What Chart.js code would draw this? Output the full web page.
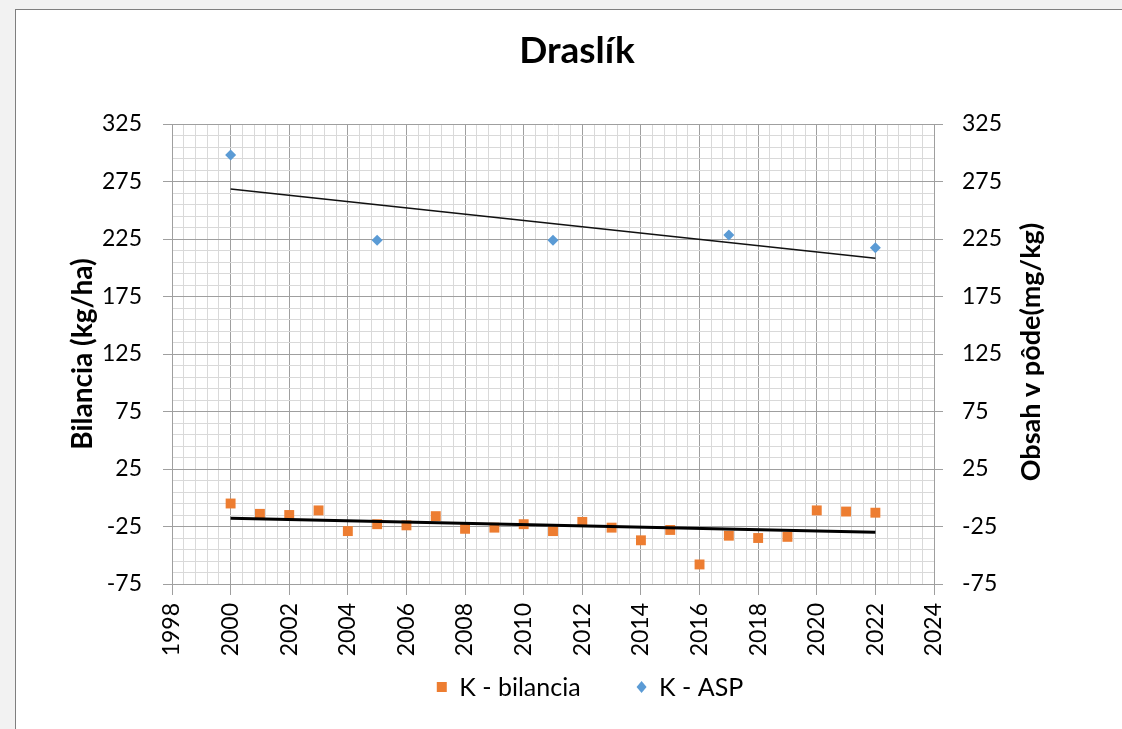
<!DOCTYPE html>
<html lang="sk">
<head>
<meta charset="utf-8">
<title>Draslík</title>
<script src="https://cdn.jsdelivr.net/npm/chart.js@4.4.1/dist/chart.umd.min.js"></script>
<style>
  html, body { margin: 0; padding: 0; background: #f2f2f2; overflow: hidden; }
  #frame {
    position: absolute; left: 15px; top: 9px; width: 1107px; height: 720px;
    background: #fff; border-left: 1px solid #7f7f7f; border-top: 1px solid #7f7f7f;
  }
  #wrap { position: absolute; left: 0; top: 0; width: 1106px; height: 719px; }
</style>
</head>
<body>
<div id="frame"><div id="wrap"><canvas id="chart"></canvas></div></div>
<script>
// K - bilancia (kg/ha), one value per year
const years = [2000, 2001, 2002, 2003, 2004, 2005, 2006, 2007, 2008, 2009, 2010, 2011,
               2012, 2013, 2014, 2015, 2016, 2017, 2018, 2019, 2020, 2021, 2022];
const bilancia = [-5, -14, -15, -11, -29, -23, -24, -16, -27, -26, -23, -29,
                  -21, -26, -37, -28, -58, -33, -35, -34, -11, -12, -13];

// K - ASP (mg/kg), soil sampling years only
const aspYears = [2000, 2005, 2011, 2017, 2022];
const aspValues = [298, 224, 224, 228.5, 217.5];

// axis ranges / labels
const xRange = [1998, 2024];
const yRange = [-75, 325];
const seriesNames = ['K - bilancia', 'K - ASP'];
const axisTitles = ['Bilancia (kg/ha)', 'Obsah v pôde(mg/kg)'];
const chartTitle = 'Draslík';

const ORANGE = '#ed7d31';
const BLUE = '#5b9bd5';
const GRID_MAJOR = '#9f9f9f';
const GRID_MINOR = '#d9d9d9';
const FONT = 'Lato';

const toPoints = (xs, ys) => xs.map((x, i) => ({ x, y: ys[i] }));

// linear trendline (least squares), from first to last x like Excel does
function trend(xs, ys) {
  const n = xs.length;
  const mx = xs.reduce((a, b) => a + b, 0) / n;
  const my = ys.reduce((a, b) => a + b, 0) / n;
  let sxy = 0, sxx = 0;
  xs.forEach((x, i) => { sxy += (x - mx) * (ys[i] - my); sxx += (x - mx) * (x - mx); });
  const k = sxy / sxx;
  const x0 = xs[0], x1 = xs[n - 1];
  return [{ x: x0, y: my + k * (x0 - mx) }, { x: x1, y: my + k * (x1 - mx) }];
}

const isMajorY = v => Math.abs(((v - yRange[0]) % 50)) < 1e-6;
const isMajorX = v => {
  const r = Math.round(v);
  return Math.abs(v - r) < 1e-6 && r % 2 === 0;
};

// right axis title reads bottom-to-top in the original, Chart.js would flip it
const rightTitle = {
  id: 'rightTitle',
  afterDraw(chart) {
    const { ctx, chartArea } = chart;
    ctx.save();
    ctx.font = `bold 27px ${FONT}`;
    ctx.fillStyle = '#000';
    ctx.textAlign = 'center';
    ctx.textBaseline = 'middle';
    ctx.translate(chartArea.right + 97, (chartArea.top + chartArea.bottom) / 2 - 2);
    ctx.rotate(-Math.PI / 2);
    ctx.fillText(axisTitles[1], 0, 0);
    ctx.restore();
  }
};

// Legend drawn by hand: the built-in one uses the same padding for the gap
// between items and for its height, and the original has a wide gap.
// The original chart is also wider than the visible crop, so the row sits
// right of the canvas centre (same for the title).
const legendRow = {
  id: 'legendRow',
  afterLayout(chart) {
    chart.titleBlock.left += 8;
    chart.titleBlock.right += 8;
  },
  afterDraw(chart) {
    const { ctx } = chart;
    const items = [
      { text: seriesNames[0], color: ORANGE, style: 'rect' },
      { text: seriesNames[1], color: BLUE, style: 'diamond' }
    ];
    const fontSize = 25, box = 10, gap = 56;
    ctx.save();
    ctx.font = `${fontSize}px ${FONT}`;
    ctx.textBaseline = 'middle';
    ctx.textAlign = 'left';
    const widths = items.map(it => box + fontSize / 2 + ctx.measureText(it.text).width);
    const total = widths.reduce((a, b) => a + b, 0) + gap * (items.length - 1);
    let x = chart.width / 2 + 21 - total / 2;
    const y = chart.height - 42;
    items.forEach((it, i) => {
      ctx.fillStyle = it.color;
      ctx.beginPath();
      if (it.style === 'rect') {
        ctx.rect(x, y - 5, 10, 10);
      } else {
        ctx.moveTo(x + 5, y - 6);
        ctx.lineTo(x + 10, y);
        ctx.lineTo(x + 5, y + 6);
        ctx.lineTo(x, y);
        ctx.closePath();
      }
      ctx.fill();
      ctx.fillStyle = '#000';
      ctx.fillText(it.text, x + box + fontSize / 2, y + 1);
      x += widths[i] + gap;
    });
    ctx.restore();
  }
};

const tickFont = { family: FONT, size: 23 };
const yTickCallback = v => (isMajorY(v) ? String(v) : '');
const yTickColor = c => (isMajorY(c.tick.value) ? GRID_MAJOR : 'transparent');

new Chart(document.getElementById('chart'), {
  type: 'scatter',
  data: {
    datasets: [
      {
        label: seriesNames[0],
        data: toPoints(years, bilancia),
        yAxisID: 'y',
        pointStyle: 'rect',
        pointRadius: 7,
        pointHoverRadius: 7,
        backgroundColor: ORANGE,
        borderColor: ORANGE,
        borderWidth: 0,
        order: 1
      },
      {
        label: seriesNames[1],
        data: toPoints(aspYears, aspValues),
        yAxisID: 'y2',
        pointStyle: 'rectRot',
        pointRadius: 5.5,
        pointHoverRadius: 5.5,
        backgroundColor: BLUE,
        borderColor: BLUE,
        borderWidth: 0,
        order: 1
      },
      {
        label: 'trend bilancia',
        type: 'line',
        data: trend(years, bilancia),
        yAxisID: 'y',
        borderColor: '#000',
        borderWidth: 3,
        pointRadius: 0,
        fill: false,
        order: 0
      },
      {
        label: 'trend ASP',
        type: 'line',
        data: trend(aspYears, aspValues),
        yAxisID: 'y2',
        borderColor: '#111',
        borderWidth: 1.6,
        pointRadius: 0,
        fill: false,
        order: 0
      }
    ]
  },
  options: {
    responsive: true,
    maintainAspectRatio: false,
    animation: false,
    // bottom padding leaves room for the hand-drawn legend row
    layout: { padding: { left: 0, right: 0, top: 0, bottom: 65 } },
    plugins: {
      title: {
        display: true,
        text: chartTitle,
        color: '#000',
        font: { family: FONT, size: 37, weight: 'bold' },
        padding: { top: 19, bottom: 50.6 }
      },
      legend: { display: false },
      tooltip: { enabled: false }
    },
    scales: {
      x: {
        type: 'linear',
        min: xRange[0],
        max: xRange[1],
        afterFit: s => { s.height = 80; },
        grid: {
          color: c => (isMajorX(c.tick.value) ? GRID_MAJOR : GRID_MINOR),
          tickColor: c => (isMajorX(c.tick.value) ? GRID_MAJOR : 'transparent'),
          tickLength: 11
        },
        border: { display: true, color: GRID_MAJOR },
        ticks: {
          color: '#000',
          font: tickFont,
          stepSize: 0.4,
          autoSkip: false,
          minRotation: 90,
          maxRotation: 90,
          padding: 8,
          callback: v => (isMajorX(v) ? String(Math.round(v)) : '')
        }
      },
      y: {
        position: 'left',
        min: yRange[0],
        max: yRange[1],
        afterFit: s => { s.width = 156; },
        grid: {
          color: c => (isMajorY(c.tick.value) ? GRID_MAJOR : GRID_MINOR),
          tickColor: yTickColor,
          tickLength: 9
        },
        border: { display: true, color: GRID_MAJOR },
        title: {
          display: true,
          text: axisTitles[0],
          color: '#000',
          font: { family: FONT, size: 28, weight: 'bold' },
          padding: { top: 50, bottom: 0 }
        },
        ticks: {
          color: '#000', font: tickFont, padding: 21,
          stepSize: 10, autoSkip: false, callback: yTickCallback
        }
      },
      y2: {
        position: 'right',
        min: yRange[0],
        max: yRange[1],
        afterFit: s => { s.width = 188; },
        grid: { drawOnChartArea: false, tickColor: yTickColor, tickLength: 9 },
        border: { display: true, color: GRID_MAJOR },
        ticks: {
          color: '#000', font: tickFont, padding: 19,
          stepSize: 10, autoSkip: false, callback: yTickCallback
        }
      }
    }
  },
  plugins: [rightTitle, legendRow]
});
</script>
</body>
</html>
